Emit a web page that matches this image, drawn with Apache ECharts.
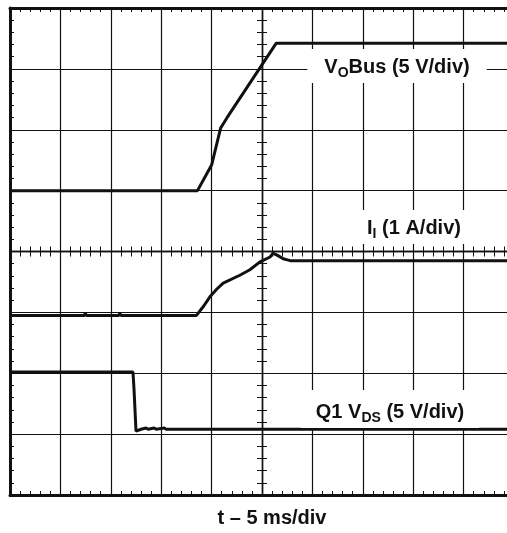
<!DOCTYPE html>
<html lang="en">
  <head>
    <meta charset="UTF-8" />
    <title>Soft start waveforms</title>
    <script src="https://cdn.jsdelivr.net/npm/echarts@6.0.0/dist/echarts.min.js"></script>
    <style>
      html, body { margin: 0; padding: 0; background: #fff; }
      #main { width: 507px; height: 533px; }
    </style>
  </head>
  <body>
    <div id="main"></div>

    <script>
      // time in ms (5 ms/div), amplitude in screen divisions (0..8)
      const voBus = [
        [0, 5.0], [18.6, 5.0], [20.0, 5.42], [20.9, 6.03], [21.5, 6.19],
        [26.4, 7.42], [50, 7.42],
      ];
      const iIn = [
        [0, 2.95], [7.4, 2.95], [7.45, 2.99], [7.6, 2.95], [10.8, 2.95],
        [10.9, 2.99], [11.0, 2.95], [18.5, 2.95], [19.2, 3.1], [19.85, 3.26],
        [20.5, 3.38], [21.15, 3.48], [22.8, 3.61], [23.8, 3.7], [24.8, 3.83],
        [25.8, 3.91], [26.1, 3.97], [26.5, 3.94], [27.1, 3.88], [27.8, 3.85],
        [50, 3.85],
      ];
      const q1Vds = [
        [0, 2.02], [12.2, 2.02], [12.3, 1.75], [12.5, 1.05], [13.0, 1.08],
        [13.5, 1.1], [13.7, 1.08], [14.3, 1.1], [14.5, 1.08], [15.3, 1.1],
        [15.5, 1.08], [50, 1.08],
      ];

      const ink = '#111';
      const font = 'Liberation Sans, Arial, Helvetica, sans-serif';

      function frameAxis(extra) {
        return Object.assign({
          type: 'value',
          gridIndex: 0,
          axisLine: { show: true, onZero: false, lineStyle: { color: ink, width: 3 } },
          axisTick: { show: true, inside: true, length: 4, lineStyle: { color: ink, width: 1 } },
          minorTick: { show: true, splitNumber: 5, length: 4, lineStyle: { color: ink, width: 1 } },
          axisLabel: { show: false },
          splitLine: { show: false },
        }, extra);
      }

      function rulerAxis(extra, inside) {
        return frameAxis(Object.assign({
          axisLine: { show: true, onZero: false, lineStyle: { color: ink, width: 1.3 } },
          axisTick: { show: true, inside: inside, length: 5, lineStyle: { color: ink, width: 1 } },
          minorTick: { show: true, splitNumber: 5, length: 5, lineStyle: { color: ink, width: 1 } },
        }, extra));
      }

      function traceLabel(text, x, y, padding) {
        return {
          type: 'text', x: x, y: y, z: 10,
          style: {
            text: text,
            align: 'center', verticalAlign: 'middle',
            backgroundColor: '#fff', padding: padding,
            rich: {
              b: { fontFamily: font, fontWeight: 'bold', fontSize: 20, fill: ink },
              s: { fontFamily: font, fontWeight: 'bold', fontSize: 14, fill: ink, padding: [12, 0, 0, 0] },
            },
          },
        };
      }

      const xRange = { min: 0, max: 50, interval: 5 };
      const yRange = { min: 0, max: 8, interval: 1 };

      const options = {
        backgroundColor: '#fff',
        animation: false,
        grid: {
          left: 10,
          top: 8,
          width: 504,
          height: 487,
          outerBoundsMode: 'none',
          containLabel: false,
        },
        xAxis: [
          frameAxis(Object.assign({
            position: 'bottom',
            splitLine: { show: true, lineStyle: { color: ink, width: 1.2 } },
          }, xRange)),
          frameAxis(Object.assign({ position: 'top' }, xRange)),
          rulerAxis(Object.assign({ position: 'bottom', offset: -243.5 }, xRange), true),
          rulerAxis(Object.assign({ position: 'bottom', offset: -243.5 }, xRange), false),
        ],
        yAxis: [
          frameAxis(Object.assign({
            position: 'left',
            splitLine: { show: true, lineStyle: { color: ink, width: 1.2 } },
          }, yRange)),
          rulerAxis(Object.assign({ position: 'left', offset: -252 }, yRange), true),
          rulerAxis(Object.assign({ position: 'left', offset: -252 }, yRange), false),
        ],
        series: [
          { name: 'VOBus', data: voBus },
          { name: 'II', data: iIn },
          { name: 'Q1 VDS', data: q1Vds },
        ].map(function (s) {
          return {
            name: s.name,
            type: 'line',
            xAxisIndex: 0,
            yAxisIndex: 0,
            data: s.data,
            showSymbol: false,
            symbol: 'none',
            lineStyle: { color: ink, width: 3 },
            z: 5,
          };
        }),
        graphic: [
          traceLabel('{b|V}{s|O}{b|Bus (5 V/div)}', 397, 66, [5, 17, 3, 17]),
          traceLabel('{b|I}{s|I}{b| (1 A/div)}', 414, 227, [5, 13, 3, 13]),
          traceLabel('{b|Q1 V}{s|DS}{b| (5 V/div)}', 390, 409, [9, 15, 3, 15]),
          {
            type: 'text', x: 272, y: 518, z: 10,
            style: {
              text: 't \u2013 5 ms/div',
              align: 'center', verticalAlign: 'middle',
              font: 'bold 20px ' + font,
              fill: ink,
            },
          },
        ],
      };

      var myChart = echarts.init(document.querySelector('#main'));
      myChart.setOption(options);

      window.onresize = function () {
        myChart.resize();
      };
    </script>
  </body>
</html>
